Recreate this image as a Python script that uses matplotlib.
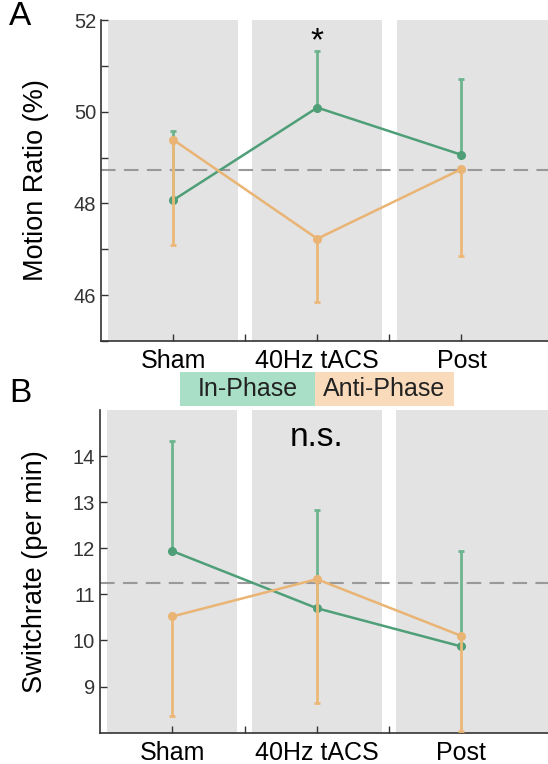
import numpy as np
import matplotlib.pyplot as plt
from matplotlib.patches import Rectangle
from matplotlib.ticker import MultipleLocator, FixedLocator

plt.rcParams['font.family'] = ['Liberation Sans', 'DejaVu Sans']

conditions = ["Sham", "40Hz tACS", "Post"]

# panel A: motion ratio (%)
motion_in = [48.07, 50.09, 49.06]
motion_in_err = [1.50, 1.24, 1.65]      # upper error only
motion_anti = [49.39, 47.23, 48.75]
motion_anti_err = [2.30, 1.37, 1.90]    # lower error only
motion_ref = 48.72

# panel B: switchrate (per min)
switch_in = [11.94, 10.70, 9.87]
switch_in_err = [2.39, 2.12, 2.06]
switch_anti = [10.52, 11.33, 10.10]
switch_anti_err = [2.15, 2.68, 2.06]
switch_ref = 11.245

green = '#4e9f78'
green_err = '#6db48f'
orange = '#e9b474'
orange_err = '#ecb878'
band = '#e3e3e3'

fig = plt.figure(figsize=(5.48, 7.64), dpi=100)
axA = fig.add_axes([0.1843, 0.5537, 0.8157, 0.4201])
axB = fig.add_axes([0.1825, 0.0410, 0.8175, 0.4224])

x = np.arange(1, len(conditions) + 1)
xmax = 3.6


def draw_panel(ax, ylim, vin, ein, vanti, eanti, ref):
    for xi in x:
        right = xmax if xi == x[-1] else xi + 0.45
        ax.add_patch(Rectangle((xi - 0.45, ylim[0]), right - (xi - 0.45), ylim[1] - ylim[0],
                               facecolor=band, edgecolor='none', zorder=0))
    ax.axhline(ref, color='#999999', lw=1.5, ls=(0, (7, 4)), zorder=1)
    ax.errorbar(x, vin, yerr=[np.zeros(3), ein], fmt='none', ecolor=green_err,
                elinewidth=2, capsize=2, capthick=2, zorder=2)
    ax.plot(x, vin, '-o', color=green, lw=1.8, ms=5.5, zorder=3)
    ax.errorbar(x, vanti, yerr=[eanti, np.zeros(3)], fmt='none', ecolor=orange_err,
                elinewidth=2, capsize=2, capthick=2, zorder=4)
    ax.plot(x, vanti, '-o', color=orange, lw=1.8, ms=5.5, zorder=5)
    ax.set_xlim(0.5, xmax)
    ax.set_ylim(*ylim)
    ax.set_xticks(x)
    ax.set_xticklabels(conditions, fontsize=18)
    ax.xaxis.set_minor_locator(FixedLocator([1.5, 2.5]))
    ax.tick_params(axis='both', which='both', direction='in', length=5, width=1, color='#333333')
    ax.tick_params(axis='y', labelsize=14.5, labelcolor='#333333')
    ax.tick_params(axis='x', pad=6)
    for s in ['top', 'right']:
        ax.spines[s].set_visible(False)
    for s in ['left', 'bottom']:
        ax.spines[s].set_linewidth(1.2)
        ax.spines[s].set_color('#333333')


draw_panel(axA, (45, 52), motion_in, motion_in_err, motion_anti, motion_anti_err, motion_ref)
axA.set_yticks([46, 48, 50, 52])
axA.yaxis.set_minor_locator(MultipleLocator(1))
axA.set_ylabel("Motion Ratio (%)", fontsize=19.5, labelpad=18)
axA.text(2, 51.52, "*", ha='center', va='center', fontsize=24)

draw_panel(axB, (8, 15), switch_in, switch_in_err, switch_anti, switch_anti_err, switch_ref)
axB.set_yticks([9, 10, 11, 12, 13, 14])
axB.set_ylabel("Switchrate (per min)", fontsize=19.5, labelpad=18)
axB.text(2, 14.41, "n.s.", ha='center', va='center', fontsize=24)

# panel letters
fig.text(0.016, 0.999, "A", fontsize=24, va='top')
fig.text(0.016, 0.505, "B", fontsize=24, va='top')

# legend boxes
fig.add_artist(Rectangle((0.3285, 0.4686), 0.2463, 0.0445, transform=fig.transFigure,
                         facecolor='#a9dfc6', edgecolor='none'))
fig.add_artist(Rectangle((0.5748, 0.4686), 0.2537, 0.0445, transform=fig.transFigure,
                         facecolor='#f9dbbb', edgecolor='none'))
fig.text(0.4517, 0.4905, "In-Phase", fontsize=18, ha='center', va='center', color='#222222')
fig.text(0.7017, 0.4905, "Anti-Phase", fontsize=18, ha='center', va='center', color='#222222')

fig.savefig('out.png', dpi=100)
